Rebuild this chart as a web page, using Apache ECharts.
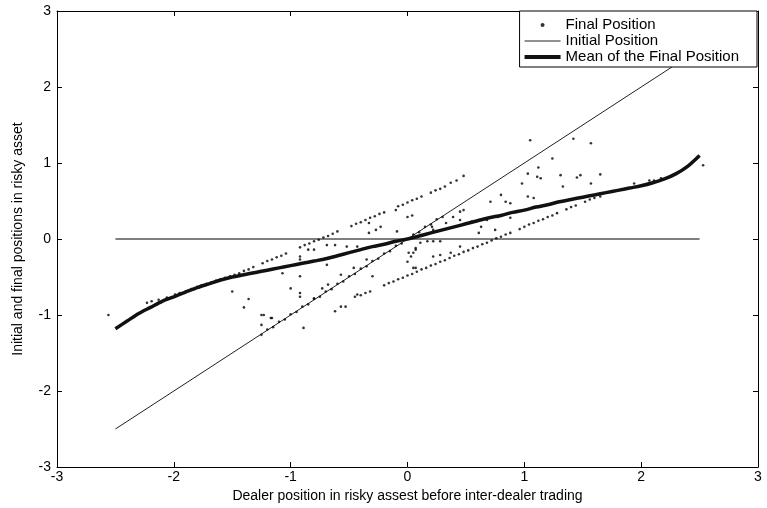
<!DOCTYPE html>
<html>
<head>
<meta charset="utf-8">
<script src="https://cdn.jsdelivr.net/npm/echarts@6/dist/echarts.min.js"></script>
<style>html,body{margin:0;padding:0;background:#fff}#c{width:767px;height:508px}</style>
</head>
<body>
<div id="c"></div>
<script>
var xTicks = [-3, -2, -1, 0, 1, 2, 3];
var yTicks = [-3, -2, -1, 0, 1, 2, 3];

var initialX = [-2.5, 2.5];
var initialY = [-2.5, 2.5];
var zeroX = [-2.5, 2.5];
var zeroY = [0, 0];

var meanX = [-2.5,-2.4,-2.3,-2.2,-2.1,-2.0,-1.9,-1.8,-1.7,-1.6,-1.5,-1.4,-1.3,-1.2,-1.1,-1.0,-0.9,-0.8,-0.7,-0.6,-0.5,-0.4,-0.3,-0.2,-0.1,0,
             0.1,0.2,0.3,0.4,0.5,0.6,0.7,0.8,0.9,1.0,1.1,1.2,1.3,1.4,1.5,1.6,1.7,1.8,1.9,2.0,2.1,2.2,2.3,2.4,2.5];
var meanY = [-1.18,-1.08,-0.98,-0.90,-0.82,-0.76,-0.70,-0.64,-0.59,-0.54,-0.50,-0.47,-0.44,-0.41,-0.38,-0.35,-0.32,-0.29,-0.26,-0.22,-0.18,-0.14,-0.10,-0.07,-0.03,0,
             0.04,0.08,0.12,0.16,0.20,0.24,0.28,0.31,0.35,0.38,0.42,0.45,0.49,0.52,0.55,0.58,0.61,0.64,0.67,0.70,0.74,0.79,0.86,0.96,1.10];

var upperBand = [[-2.23,-0.84],[-2.19,-0.82],[-2.13,-0.80],[-2.06,-0.77],[-1.99,-0.73],[-1.95,-0.71],[-1.90,-0.69],[-1.85,-0.66],
  [-1.80,-0.63],[-1.76,-0.61],[-1.72,-0.59],[-1.68,-0.57],[-1.64,-0.55],[-1.60,-0.53],[-1.56,-0.51],[-1.52,-0.49],[-1.48,-0.47],
  [-1.44,-0.45],[-1.40,-0.42],[-1.36,-0.40],[-1.32,-0.37],[-1.24,-0.32],[-1.20,-0.29],[-1.16,-0.27],[-1.12,-0.24],[-1.08,-0.22],
  [-1.04,-0.19],[-0.92,-0.11],[-0.88,-0.08],[-0.84,-0.06],[-0.80,-0.03],[-0.76,-0.01],[-0.72,0.02],[-0.68,0.04],[-0.64,0.07],
  [-0.60,0.10],[-0.48,0.17],[-0.44,0.20],[-0.40,0.22],[-0.36,0.25],[-0.32,0.28],[-0.28,0.30],[-0.24,0.33],[-0.20,0.35],
  [-0.08,0.43],[-0.04,0.45],[0.00,0.48],[0.04,0.51],[0.08,0.53],[0.12,0.56],[0.20,0.61],[0.24,0.64],[0.28,0.66],[0.32,0.69],
  [0.37,0.74],[0.42,0.77],[0.48,0.83]];

var lowerBand = [[-0.45,-0.76],[-0.40,-0.74],[-0.36,-0.71],[-0.32,-0.69],[-0.20,-0.61],[-0.16,-0.58],[-0.12,-0.56],[-0.08,-0.53],
  [-0.04,-0.51],[0.00,-0.48],[0.04,-0.46],[0.08,-0.43],[0.12,-0.40],[0.16,-0.38],[0.20,-0.35],[0.24,-0.33],[0.28,-0.30],
  [0.32,-0.28],[0.36,-0.25],[0.40,-0.22],[0.44,-0.20],[0.48,-0.17],[0.52,-0.15],[0.56,-0.12],[0.60,-0.10],[0.64,-0.07],
  [0.68,-0.05],[0.72,-0.02],[0.76,0.01],[0.80,0.03],[0.84,0.06],[0.88,0.08],[0.96,0.13],[1.00,0.16],[1.04,0.19],[1.08,0.21],
  [1.12,0.24],[1.16,0.26],[1.20,0.29],[1.24,0.31],[1.28,0.34],[1.36,0.39],[1.40,0.42],[1.44,0.44],[1.52,0.49],[1.56,0.52],
  [1.60,0.54],[1.65,0.56]];

var diagonalPts = [[-1.25,-1.26],[-1.20,-1.19],[-1.15,-1.16],[-1.10,-1.09],[-1.05,-1.06],[-1.00,-0.99],[-0.95,-0.96],[-0.90,-0.89],
  [-0.85,-0.86],[-0.80,-0.79],[-0.75,-0.76],[-0.70,-0.69],[-0.65,-0.66],[-0.60,-0.59],[-0.55,-0.56],[-0.50,-0.49],[-0.45,-0.46],
  [-0.40,-0.39],[-0.35,-0.36],[-0.30,-0.29],[-0.25,-0.26],[-0.20,-0.19],[-0.15,-0.16],[-0.10,-0.09],[-0.05,-0.06],[0.05,0.06],
  [0.10,0.09],[0.15,0.16],[0.20,0.19],[0.25,0.26],[0.30,0.29]];

var loosePts = [[0,0.29],[0.04,0.31],[-0.09,0.10],[-0.33,0.21],[-0.33,0.08],[-0.27,0.12],[-0.23,0.16],[-0.69,-0.08],[-0.62,-0.08],
  [-0.52,-0.10],[-0.43,-0.10],[-0.36,-0.12],[-0.80,-0.14],[-0.85,-0.14],[-0.92,-0.23],[-0.92,-0.27],[-0.69,-0.34],[-0.46,-0.38],
  [-0.35,-0.27],[-0.30,-0.49],[-0.57,-0.47],[-0.92,-0.49],[-1.0,-0.65],[-0.92,-0.71],[-0.92,-0.76],[-0.80,-0.78],[-0.73,-0.65],
  [-0.68,-0.60],[-0.57,-0.89],[-0.53,-0.89],[-0.62,-0.95],[-1.25,-1.0],[-1.16,-1.04],[-1.25,-1.13],[-0.89,-1.17],[0.07,-0.14],
  [0,-0.30],[0.07,-0.38],[0.05,-0.18],[-0.43,-0.73],[1.05,1.30],[1.42,1.32],[1.45,0.81],[1.24,1.06],[1.03,0.86],[1.12,0.94],
  [1.11,0.82],[0.98,0.73],[1.14,0.80],[1.33,0.69],[1.03,0.56],[1.08,0.54],[0.80,0.58],[0.71,0.49],[0.84,0.49],[0.88,0.47],
  [0.77,0.29],[0.88,0.28],[0.75,0.12],[0.63,0.16],[0.68,0.25],[0.55,0.23],[0.48,0.38],[0.45,0.25],[0.39,0.29],[0.33,0.21],
  [0.21,0.16],[0.22,0.12],[0.11,-0.05],[0.17,-0.03],[0.22,-0.03],[0.28,-0.03],[0.07,-0.12],[0.01,-0.18],[0.03,-0.23],[0.05,-0.38],
  [0.22,-0.23],[0.28,-0.21],[0.37,-0.18],[0.45,-0.10],[0.45,0.36],[0.61,0.08],[1.57,1.26],[1.48,0.84],[1.65,0.85],[1.57,0.73],
  [1.94,0.73],[2.07,0.77],[2.11,0.77],[2.17,0.80],[2.53,0.97],[1.31,0.84],[-2.56,-1.0],[-1.50,-0.69],[-1.36,-0.79],[-1.40,-0.90],
  [-1.23,-1.0],[-1.17,-1.04],[-1.07,-0.45],[-0.10,0.38]];

function zip(a, b) { return a.map(function (v, i) { return [v, b[i]]; }); }

var FONT = '"Liberation Sans", Arial, sans-serif';
var chart = echarts.init(document.getElementById('c'));

function axisBase(extra) {
  var o = {
    type: 'value', min: -3, max: 3, interval: 1,
    axisLine: { onZero: false, lineStyle: { color: '#000', width: 1 } },
    axisTick: { inside: true, length: 5, lineStyle: { color: '#000' } },
    splitLine: { show: false },
    axisLabel: { color: '#000', fontSize: 14, fontFamily: FONT, margin: 6 }
  };
  for (var k in extra) o[k] = extra[k];
  return o;
}

var noSymbol = { color: 'transparent', borderWidth: 0 };

chart.setOption({
  animation: false,
  backgroundColor: '#fff',
  grid: { left: 57, right: 9, top: 11, bottom: 41, containLabel: false },
  xAxis: [
    axisBase({ position: 'bottom', name: 'Dealer position in risky assest before inter-dealer trading',
      nameLocation: 'middle', nameGap: 20, nameTextStyle: { color: '#000', fontSize: 14, fontFamily: FONT },
      axisLabel: { color: '#000', fontSize: 14, fontFamily: FONT, margin: 3, formatter: function (v) { return xTicks.indexOf(v) >= 0 ? String(v) : ''; } } }),
    axisBase({ position: 'top', axisLabel: { show: false } })
  ],
  yAxis: [
    axisBase({ position: 'left', name: 'Initial and final positions in risky asset',
      nameLocation: 'middle', nameGap: 32, nameTextStyle: { color: '#000', fontSize: 14, fontFamily: FONT },
      axisLabel: { color: '#000', fontSize: 14, fontFamily: FONT, margin: 6, formatter: function (v) { return yTicks.indexOf(v) >= 0 ? String(v) : ''; } } }),
    axisBase({ position: 'right', axisLabel: { show: false } })
  ],
  legend: {
    orient: 'vertical', right: 10, top: 11,
    backgroundColor: '#fff', borderColor: '#000', borderWidth: 1, borderRadius: 0,
    padding: [6, 18, 2, 3], itemGap: 0, itemWidth: 36, itemHeight: 4,
    textStyle: { color: '#000', fontSize: 15, fontFamily: FONT, lineHeight: 16 },
    data: [
      { name: 'Final Position', icon: 'circle' },
      { name: 'Initial Position', itemStyle: noSymbol, lineStyle: { width: 1, color: '#222' } },
      { name: 'Mean of the Final Position', itemStyle: noSymbol, lineStyle: { width: 4, color: '#111' } }
    ]
  },
  series: [
    { name: 'Initial Position', type: 'line', data: zip(initialX, initialY), symbol: 'none',
      lineStyle: { color: '#222', width: 1 }, itemStyle: { color: '#222' }, z: 2 },
    { name: 'zero', type: 'line', data: zip(zeroX, zeroY), symbol: 'none',
      lineStyle: { color: '#000', width: 1.2 }, z: 2 },
    { name: 'Final Position', type: 'scatter', symbolSize: 2.6,
      data: upperBand.concat(lowerBand, diagonalPts, loosePts),
      itemStyle: { color: '#000' }, z: 3 },
    { name: 'Mean of the Final Position', type: 'line', data: zip(meanX, meanY), symbol: 'none', smooth: 0.3,
      lineStyle: { color: '#111', width: 3.5 }, itemStyle: { color: '#111' }, z: 4 }
  ]
});
</script>
</body>
</html>
